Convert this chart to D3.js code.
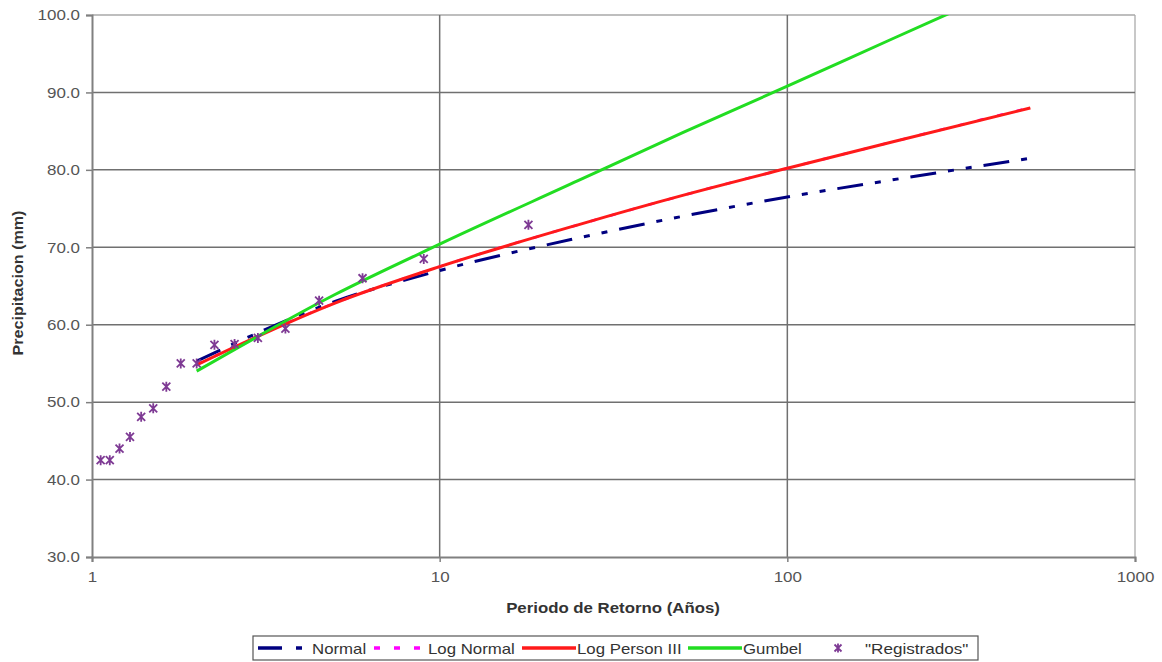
<!DOCTYPE html>
<html>
<head>
<meta charset="utf-8">
<script src="https://cdn.jsdelivr.net/npm/d3@7/dist/d3.min.js"></script>
<style>
  html, body { margin: 0; padding: 0; background: #fff; }
  svg { display: block; font-family: "Liberation Sans", Arial, sans-serif; }
</style>
</head>
<body>
<svg id="chart" width="1162" height="662"></svg>
<script>
// ---- data ----
const returnPeriods = [2, 5, 10, 25, 50, 100, 200, 500];
const normalValues     = [55.3, 63.0, 67.0, 71.2, 74.0, 76.5, 78.7, 81.5];
const logNormalValues  = [54.85, 62.8, 67.5, 72.9, 76.7, 80.2, 83.6, 88.05];
const logPearsonValues = [54.8, 62.8, 67.5, 72.9, 76.7, 80.2, 83.6, 88.0];
const gumbelValues     = [54.0, 63.9, 70.4, 78.6, 84.8, 90.8, 96.9, 104.9];

const observedPeriods = [18, 9, 6, 4.5, 3.6, 3, 2.571, 2.25, 2, 1.8, 1.636, 1.5, 1.385, 1.286, 1.2, 1.125, 1.059];
const observedValues  = [72.9, 68.5, 66.0, 63.1, 59.5, 58.3, 57.5, 57.4, 55.0, 55.0, 52.0, 49.2, 48.1, 45.5, 44.0, 42.5, 42.5];

const yTicks = [30, 40, 50, 60, 70, 80, 90, 100];
const xTicks = [1, 10, 100, 1000];
const legendLabels = ["Normal", "Log Normal", "Log Person III", "Gumbel", "\"Registrados\""];

// ---- layout ----
const svg = d3.select("#chart");
const pLeft = 92, pTop = 15, pRight = 1135, pBottom = 557;
const x = d3.scaleLog().domain([1, 1000]).range([pLeft, pRight]);
const y = d3.scaleLinear().domain([30, 100]).range([pBottom, pTop]);

function stretch(sel, k) {
  sel.each(function () {
    const w = this.getComputedTextLength();
    d3.select(this).attr("textLength", w * k).attr("lengthAdjust", "spacingAndGlyphs");
  });
}

svg.append("defs").append("clipPath").attr("id", "plotclip")
  .append("rect").attr("x", pLeft).attr("y", pTop).attr("width", pRight - pLeft).attr("height", pBottom - pTop);

// right border (light)
svg.append("line").attr("x1", pRight).attr("x2", pRight).attr("y1", pTop).attr("y2", pBottom)
  .attr("stroke", "#c8c8c8").attr("stroke-width", 2);

// horizontal gridlines
svg.append("g").selectAll("line").data(yTicks.filter(d => d > 30)).join("line")
  .attr("x1", pLeft).attr("x2", pRight)
  .attr("y1", d => y(d)).attr("y2", d => y(d))
  .attr("stroke", d => d === 100 ? "#a8a8a8" : "#707070").attr("stroke-width", 1.5);

// vertical gridlines
svg.append("g").selectAll("line").data([10, 100]).join("line")
  .attr("x1", d => x(d)).attr("x2", d => x(d))
  .attr("y1", pTop).attr("y2", pBottom)
  .attr("stroke", "#707070").attr("stroke-width", 1.5);

// axes
const yAxis = svg.append("g").attr("transform", `translate(${pLeft},0)`)
  .call(d3.axisLeft(y).tickValues(yTicks).tickFormat(d3.format(".1f")).tickSize(6).tickPadding(6));
const xAxis = svg.append("g").attr("transform", `translate(0,${pBottom})`)
  .call(d3.axisBottom(x).tickValues(xTicks).tickFormat(d3.format("d")).tickSize(5).tickPadding(9));
[yAxis, xAxis].forEach(g => {
  g.select(".domain").attr("stroke", "#808080").attr("stroke-width", 2);
  g.selectAll(".tick line").attr("stroke", "#808080").attr("stroke-width", 1.5);
  g.selectAll(".tick text").attr("fill", "#555").style("font-size", "15px")
    .style("font-family", "'Liberation Sans', Arial, sans-serif");
  stretch(g.selectAll(".tick text"), 1.13);
});

// axis titles
const yTitle = svg.append("text")
  .attr("transform", `translate(23,${(pTop + pBottom) / 2 - 3}) rotate(-90)`)
  .attr("text-anchor", "middle").attr("font-weight", "bold").attr("font-size", 14)
  .attr("fill", "#333").text("Precipitacion (mm)");
const xTitle = svg.append("text")
  .attr("x", 613).attr("y", 613)
  .attr("text-anchor", "middle").attr("font-weight", "bold").attr("font-size", 14)
  .attr("fill", "#333").text("Periodo de Retorno (Años)");
stretch(yTitle, 1.15);
stretch(xTitle, 1.2);

// ---- series ----
const series = [
  { name: legendLabels[0], values: normalValues, color: "#000080", dash: "26,12,6,12,6,12" },
  { name: legendLabels[1], values: logNormalValues, color: "#ff00ff", dash: "6,14" },
  { name: legendLabels[2], values: logPearsonValues, color: "#ff1a1a", dash: null },
  { name: legendLabels[3], values: gumbelValues, color: "#22dd22", dash: null }
];

const line = d3.line().x(d => x(d[0])).y(d => y(d[1])).curve(d3.curveMonotoneX);
const plot = svg.append("g").attr("clip-path", "url(#plotclip)");
series.forEach(s => {
  plot.append("path")
    .datum(returnPeriods.map((t, i) => [t, s.values[i]]))
    .attr("d", line)
    .attr("fill", "none")
    .attr("stroke", s.color)
    .attr("stroke-width", s.name === "Log Normal" ? 2.6 : 3)
    .attr("stroke-dasharray", s.dash);
});

// observed markers (asterisk-like)
function starPath(cx, cy, r) {
  return `M${cx - r},${cy - r}L${cx + r},${cy + r}M${cx - r},${cy + r}L${cx + r},${cy - r}M${cx},${cy - r - 1}L${cx},${cy + r + 1}`;
}
svg.append("g").selectAll("path").data(observedPeriods.map((t, i) => [t, observedValues[i]])).join("path")
  .attr("d", d => starPath(x(d[0]), y(d[1]), 4))
  .attr("fill", "none").attr("stroke", "#7e3a94").attr("stroke-width", 1.8);

// ---- legend ----
const lg = svg.append("g");
lg.append("rect").attr("x", 253).attr("y", 636).attr("width", 725).attr("height", 24)
  .attr("fill", "#fff").attr("stroke", "#555").attr("stroke-width", 1.2);
const ly = 648;
const legendItems = [
  { s: series[0], x1: 258, x2: 306, tx: 312 },
  { s: series[1], x1: 374, x2: 424, tx: 428 },
  { s: series[2], x1: 522, x2: 576, tx: 577 },
  { s: series[3], x1: 688, x2: 742, tx: 743 }
];
legendItems.forEach(it => {
  lg.append("line").attr("x1", it.x1).attr("x2", it.x2).attr("y1", ly).attr("y2", ly)
    .attr("stroke", it.s.color).attr("stroke-width", 3.5)
    .attr("stroke-dasharray", it.s.name === "Normal" ? "24,14,6,30" : it.s.dash);
  const t = lg.append("text").attr("x", it.tx).attr("y", ly + 5.5).attr("font-size", 15)
    .attr("fill", "#333").text(it.s.name);
  stretch(t, 1.12);
});
lg.append("path").attr("d", starPath(838, ly, 3.5)).attr("fill", "none")
  .attr("stroke", "#7e3a94").attr("stroke-width", 1.8);
const rt = lg.append("text").attr("x", 865).attr("y", ly + 5.5).attr("font-size", 15)
  .attr("fill", "#333").text(legendLabels[4]);
stretch(rt, 1.14);
</script>
</body>
</html>
